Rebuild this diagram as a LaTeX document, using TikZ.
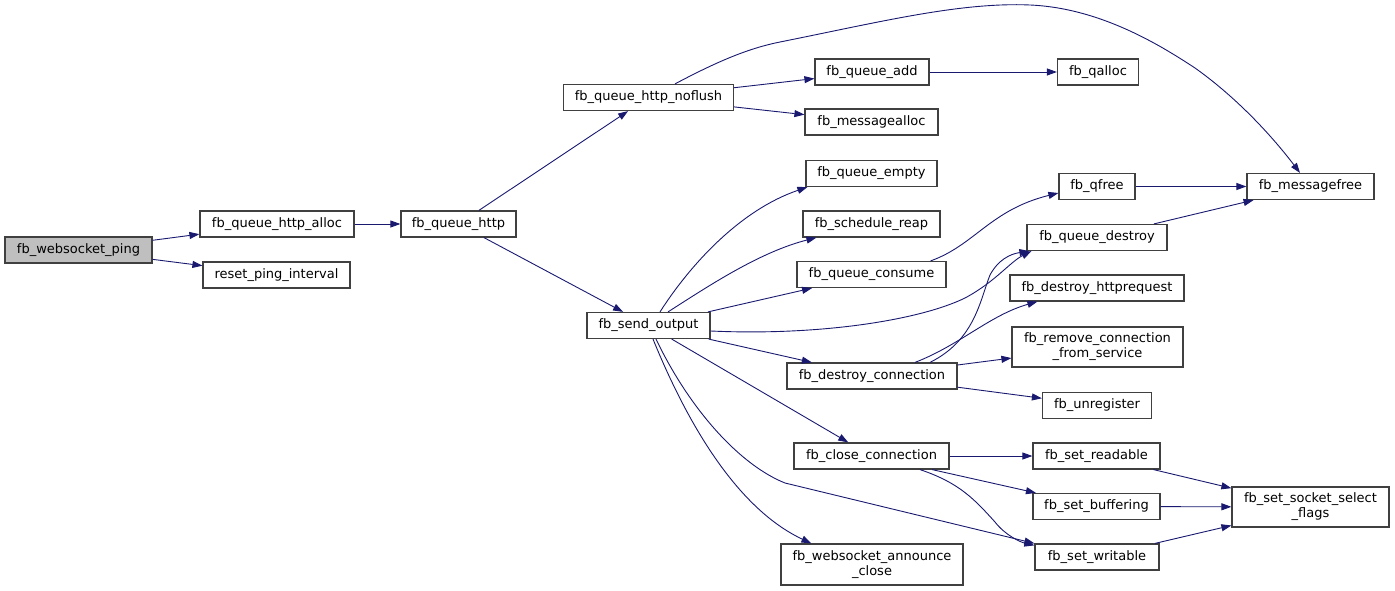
\documentclass[tikz,border=0pt]{standalone}
\usepackage{fontspec}
\setmainfont{DejaVu Sans}
\usetikzlibrary{arrows.meta}
\definecolor{edgec}{RGB}{25,25,112}
\definecolor{boxc}{RGB}{64,64,64}
\definecolor{startfill}{RGB}{191,191,191}
\tikzset{
  fnbox/.style={draw=boxc, line width=1.2pt, fill=white, inner sep=0pt, minimum height=26pt,
    font=\fontsize{13}{15}\selectfont, align=center},
  edge/.style={draw=edgec, line width=0.9pt, -{Triangle[length=10pt,width=7pt]}},
}
\begin{document}
\begin{tikzpicture}[x=1pt,y=-1pt]
\useasboundingbox (0,0) rectangle (1395,591);
% nodes
\node[fnbox, fill=startfill, minimum width=147] (ping) at (78.5,250) {fb\_websocket\_ping};
\node[fnbox, minimum width=154] (alloc) at (277,224) {fb\_queue\_http\_alloc};
\node[fnbox, minimum width=147] (reset) at (276.5,275) {reset\_ping\_interval};
\node[fnbox, minimum width=115] (qhttp) at (458.5,224) {fb\_queue\_http};
\node[fnbox, minimum width=170] (noflush) at (648.5,97.5) {fb\_queue\_http\_noflush};
\node[fnbox, minimum width=123] (sendout) at (648.5,325.5) {fb\_send\_output};
\node[fnbox, minimum width=114] (qadd) at (872,72) {fb\_queue\_add};
\node[fnbox, minimum width=81] (qalloc) at (1098,72) {fb\_qalloc};
\node[fnbox, minimum width=133] (malloc) at (871.5,122) {fb\_messagealloc};
\node[fnbox, minimum width=131] (qempty) at (871.5,173.5) {fb\_queue\_empty};
\node[fnbox, minimum width=137] (reap) at (871.5,224) {fb\_schedule\_reap};
\node[fnbox, minimum width=149] (consume) at (871.5,274.5) {fb\_queue\_consume};
\node[fnbox, minimum width=170] (dconn) at (872,376) {fb\_destroy\_connection};
\node[fnbox, minimum width=155] (close) at (871.5,456) {fb\_close\_connection};
\node[fnbox, minimum width=182, minimum height=41] (announce) at (872,564.5) {fb\_websocket\_announce\\\_close};
\node[fnbox, minimum width=76] (qfree) at (1097,186.5) {fb\_qfree};
\node[fnbox, minimum width=127] (mfree) at (1310.5,186.5) {fb\_messagefree};
\node[fnbox, minimum width=140] (qdestroy) at (1097,237.5) {fb\_queue\_destroy};
\node[fnbox, minimum width=174] (dhttp) at (1097,288) {fb\_destroy\_httprequest};
\node[fnbox, minimum width=171, minimum height=40] (remove) at (1097.5,347) {fb\_remove\_connection\\\_from\_service};
\node[fnbox, minimum width=109] (unreg) at (1097,405.5) {fb\_unregister};
\node[fnbox, minimum width=127] (readable) at (1096.5,456) {fb\_set\_readable};
\node[fnbox, minimum width=127] (buffering) at (1096.5,506.5) {fb\_set\_buffering};
\node[fnbox, minimum width=124] (writable) at (1097,557) {fb\_set\_writable};
\node[fnbox, minimum width=157, minimum height=40] (flags) at (1310.5,507) {fb\_set\_socket\_select\\\_flags};
% straight edges
\draw[edge] (ping) -- (alloc);
\draw[edge] (ping) -- (reset);
\draw[edge] (alloc) -- (qhttp);
\draw[edge] (qhttp) -- (noflush);
\draw[edge] (qhttp) -- (sendout);
\draw[edge] (noflush) -- (qadd);
\draw[edge] (noflush) -- (malloc);
\draw[edge] (qadd) -- (qalloc);
\draw[edge] (sendout) -- (consume);
\draw[edge] (sendout) -- (dconn);
\draw[edge] (sendout) -- (close);
\draw[edge] (qfree) -- (mfree);
\draw[edge] (qdestroy) -- (mfree);
\draw[edge] (dconn) -- (remove);
\draw[edge] (dconn) -- (unreg);
\draw[edge] (close) -- (readable);
\draw[edge] (close) -- (buffering);
\draw[edge] (readable) -- (flags);
\draw[edge] (buffering) -- (flags);
\draw[edge] (writable) -- (flags);
% curved edges
\draw[edge] ([xshift=26.5]noflush.north) .. controls (720,60) and (750,48) .. (780,42)
  .. controls (880,22) and (960,2) .. (1030,5)
  .. controls (1100,8) and (1160,45) .. (1195,68)
  .. controls (1240,100) and (1275,140) .. ([xshift=-10.5]mfree.north);
\draw[edge] ([xshift=11.5]sendout.north) .. controls (690,265) and (740,210) .. ([xshift=2]qempty.south west);
\draw[edge] ([xshift=19.5]sendout.north) .. controls (710,285) and (760,252) .. ([xshift=14]reap.south west);
\draw[edge] ([yshift=-5.5]sendout.east) .. controls (820,336) and (920,320) .. (965,298)
  .. controls (995,282) and (1010,262) .. ([xshift=5]qdestroy.south west);
\draw[edge] ([xshift=7.5]sendout.south) .. controls (690,410) and (740,465) .. (785,483)
  -- (writable.north west);
\draw[edge] ([xshift=4.5]sendout.south) .. controls (690,430) and (740,510) .. ([xshift=31]announce.north west);
\draw[edge] ([xshift=-16]consume.north east) .. controls (975,245) and (990,210) .. ([yshift=-6.5]qfree.west);
\draw[edge] ([xshift=58]dconn.north) .. controls (975,340) and (980,300) .. (990,275)
  .. controls (998,260) and (1010,254) .. ([xshift=3]qdestroy.south west);
\draw[edge] ([xshift=43]dconn.north) .. controls (960,345) and (990,315) .. ([xshift=28]dhttp.south west);
\draw[edge] ([xshift=48.5]close.south) .. controls (960,483) and (975,500) .. (995,522)
  .. controls (1005,535) and (1020,542) .. ([yshift=-2]writable.north west);
\end{tikzpicture}
\end{document}
